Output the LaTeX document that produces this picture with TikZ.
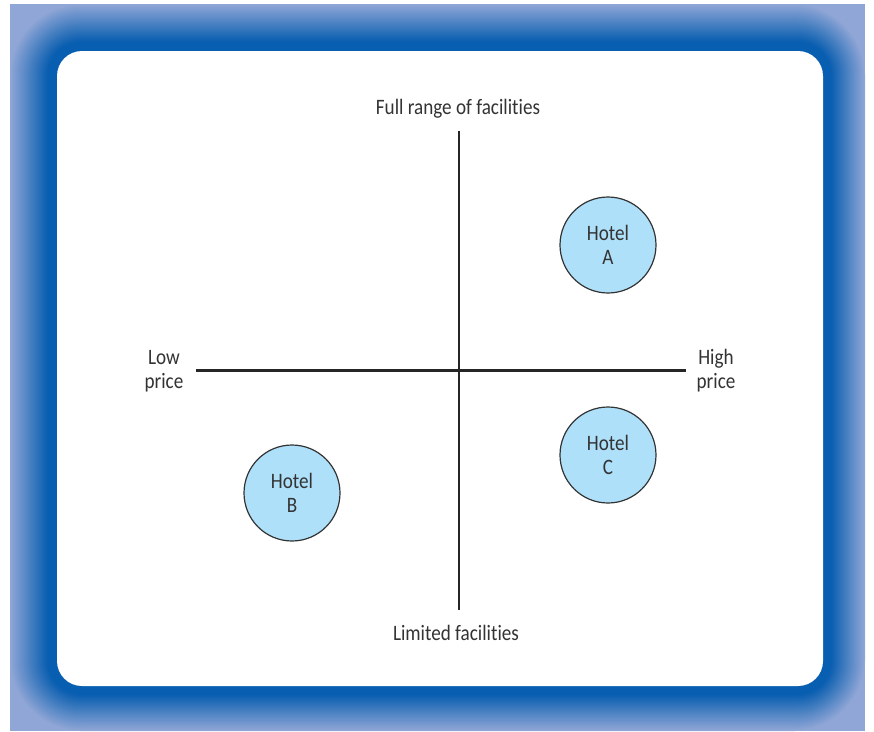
\documentclass[tikz,border=0pt]{standalone}
\usepackage{fontspec}
\setmainfont{Carlito}[FakeStretch=0.87, RawFeature=-liga]
\usepackage{tikz}
\usetikzlibrary{positioning, calc}
\definecolor{framelight}{RGB}{143,166,214}
\definecolor{framedark}{RGB}{8,94,176}
\definecolor{hotelfill}{RGB}{174,224,250}
\definecolor{textgray}{RGB}{51,51,51}

\tikzset{
  axislabel/.style={text=textgray, font=\fontsize{22}{24}\selectfont, align=center, inner sep=0pt},
  hotel/.style={circle, draw=textgray, line width=1.2pt, fill=hotelfill, minimum size=96pt,
    text=textgray, font=\fontsize{22}{24}\selectfont, align=center, inner sep=0pt},
  axisline/.style={line width=2.6pt, draw=black!85}
}

\begin{document}
\begin{tikzpicture}[x=1pt, y=-1pt]
    \useasboundingbox (0,0) rectangle (874,731);

    % Blue frame, fading in towards the card
    \fill[framelight] (10,4) rectangle (865,731);
    \foreach \i in {0,...,46} {
        \pgfmathsetmacro{\t}{\i/46}
        \pgfmathsetmacro{\pct}{min(100, 125*\t)}
        \fill[framedark!\pct!framelight, rounded corners={(25+46*(1-\t))*1pt}]
            ({10+47*\t},{4+47*\t}) rectangle ({865-42*\t},{731-45*\t});
    }

    % White card
    \fill[white, rounded corners=25pt] (57,51) rectangle (823,686);

    % Axis labels
    \node[axislabel] (full) at (458,109) {Full range of facilities};
    \node[axislabel] (limited) at (456,633) {Limited facilities};
    \node[axislabel] (low) at (164,371) {Low\\price};
    \node[axislabel] (high) at (716,371) {High\\price};

    % Axis ends
    \coordinate (top) at (459,131);
    \coordinate (bottom) at (459,610);
    \coordinate (left) at (196,370.5);
    \coordinate (right) at (686,370.5);

    % Draw axes
    \draw[axisline] (top) -- (bottom);
    \draw[axisline] (left) -- (right);

    % Hotels
    \node[hotel] (hotelA) at (608,245) {Hotel\\A};
    \node[hotel] (hotelC) at (608,455) {Hotel\\C};
    \node[hotel] (hotelB) at (292,493) {Hotel\\B};
\end{tikzpicture}
\end{document}
